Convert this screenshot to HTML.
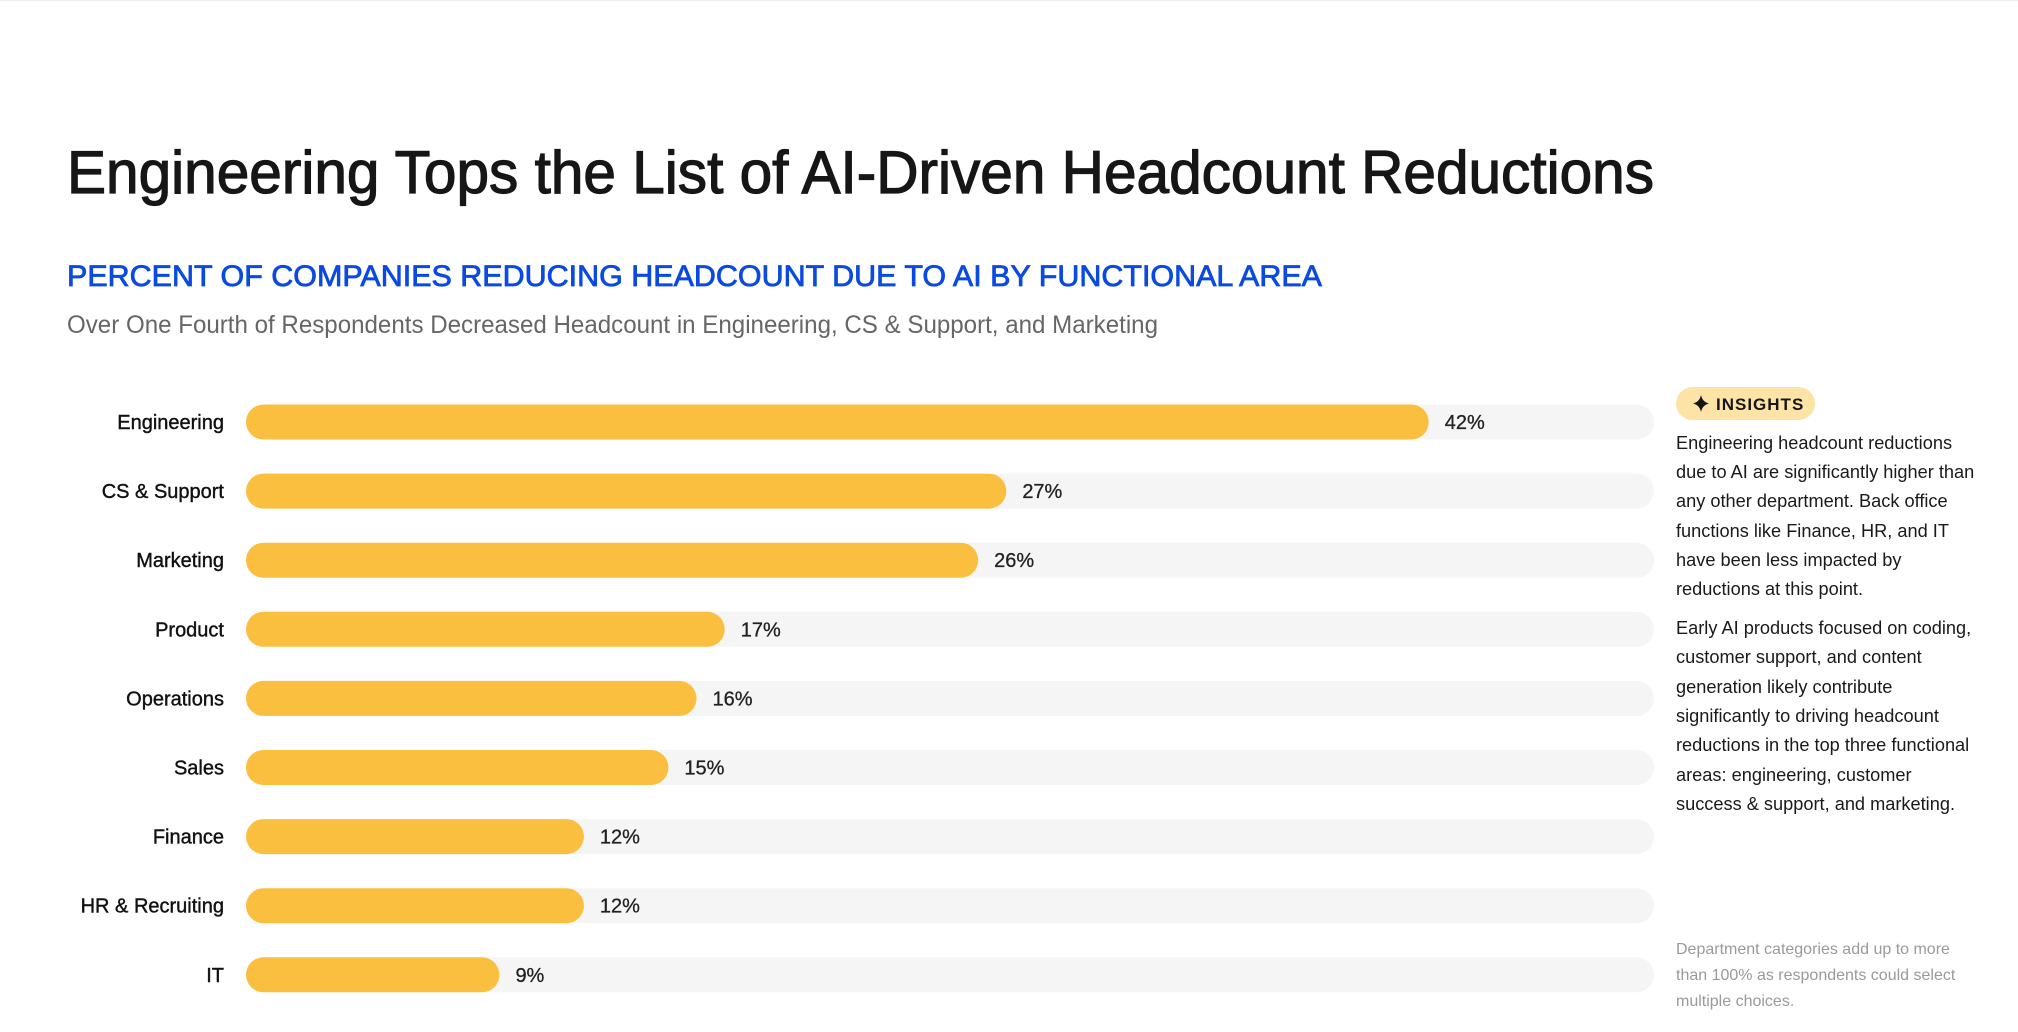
<!DOCTYPE html>
<html><head><meta charset="utf-8"><style>
html,body{margin:0;padding:0;background:#fff;}
svg{display:block;font-family:"Liberation Sans",sans-serif;}
</style></head><body>
<svg id="chart" width="2018" height="1032" viewBox="0 0 2018 1032">
<rect x="0" y="0" width="2018" height="1032" fill="#fff"/>
<line x1="0" y1="0.5" x2="2018" y2="0.5" stroke="#eee"/>
<text x="67" y="193" font-size="60" fill="#161616" stroke="#161616" stroke-width="1.2" textLength="1587" lengthAdjust="spacingAndGlyphs">Engineering Tops the List of AI-Driven Headcount Reductions</text>
<text x="67" y="286" font-size="30" fill="#0a4ae0" stroke="#0a4ae0" stroke-width="0.8" textLength="1255" lengthAdjust="spacingAndGlyphs">PERCENT OF COMPANIES REDUCING HEADCOUNT DUE TO AI BY FUNCTIONAL AREA</text>
<text x="67" y="333" font-size="25" fill="#666" textLength="1091" lengthAdjust="spacingAndGlyphs">Over One Fourth of Respondents Decreased Headcount in Engineering, CS &amp; Support, and Marketing</text>
<g id="bars"></g>
<g>
<rect x="1676" y="387" width="139" height="33" rx="16.5" fill="#fde3a5"/>
<path d="M1701 395 Q1702.5 402 1709 403.5 Q1702.5 405 1701 412 Q1699.5 405 1693 403.5 Q1699.5 402 1701 395Z" fill="#161616"/>
<text x="1716" y="410" font-size="17" font-weight="bold" fill="#161616" letter-spacing="1">INSIGHTS</text>
<g font-size="18.2" fill="#1a1a1a">
<text x="1676" y="449">Engineering headcount reductions</text>
<text x="1676" y="478">due to AI are significantly higher than</text>
<text x="1676" y="507">any other department. Back office</text>
<text x="1676" y="537">functions like Finance, HR, and IT</text>
<text x="1676" y="566">have been less impacted by</text>
<text x="1676" y="595">reductions at this point.</text>
</g>
<g font-size="18.2" fill="#1a1a1a">
<text x="1676" y="634">Early AI products focused on coding,</text>
<text x="1676" y="663">customer support, and content</text>
<text x="1676" y="693">generation likely contribute</text>
<text x="1676" y="722">significantly to driving headcount</text>
<text x="1676" y="751">reductions in the top three functional</text>
<text x="1676" y="781">areas: engineering, customer</text>
<text x="1676" y="810">success &amp; support, and marketing.</text>
</g>
<g font-size="16" fill="#9a9a9a">
<text x="1676" y="954">Department categories add up to more</text>
<text x="1676" y="980">than 100% as respondents could select</text>
<text x="1676" y="1006">multiple choices.</text>
</g>
</g>
</svg>
<script>
const categories = ["Engineering","CS & Support","Marketing","Product","Operations","Sales","Finance","HR & Recruiting","IT"];
const values = [42,27,26,17,16,15,12,12,9];
const valueLabels = ["42%","27%","26%","17%","16%","15%","12%","12%","9%"];
const axisMax = 50;

const NS = "http://www.w3.org/2000/svg";
const x0 = 246, x1 = 1654, rowTop = 422, rowStep = 69.1, barH = 35;
function xScale(v){ return x0 + (v/axisMax)*(x1-x0); }
function yScale(i){ return rowTop + i*rowStep; }
const g = document.getElementById('bars');
function mk(tag, attrs){ const e=document.createElementNS(NS,tag); for(const k in attrs) e.setAttribute(k,attrs[k]); return e; }
categories.forEach((c,i)=>{
  const cy = yScale(i);
  const track = mk('rect',{x:x0,y:cy-barH/2,width:x1-x0,height:barH,rx:barH/2,fill:'#f5f5f5'});
  
  
  g.appendChild(track);
  const bar = mk('rect',{x:x0,y:cy-barH/2,width:xScale(values[i])-x0,height:barH,rx:barH/2,fill:'#fbbf3f'});
  
  
  g.appendChild(bar);
  const lab = mk('text',{x:224,y:cy+7,'text-anchor':'end','font-size':20,fill:'#111',stroke:'#111','stroke-width':0.4});
  lab.textContent = c;
  
  
  g.appendChild(lab);
  const val = mk('text',{x:xScale(values[i])+16,y:cy+7,'font-size':20,fill:'#222',stroke:'#222','stroke-width':0.3});
  val.textContent = valueLabels[i];
  
  
  g.appendChild(val);
});
</script>
</body></html>
